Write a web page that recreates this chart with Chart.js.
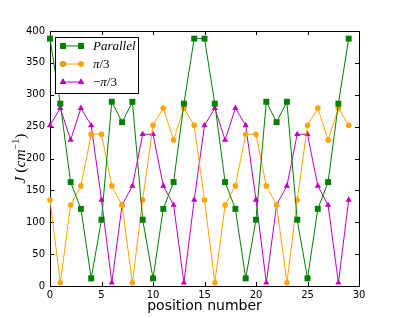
<!DOCTYPE html>
<html>
<head>
<meta charset="utf-8">
<script src="https://cdn.jsdelivr.net/npm/chart.js@4.4.1/dist/chart.umd.min.js"></script>
<style>
  html, body { margin: 0; padding: 0; background: #fff; }
  #wrap { width: 399px; height: 318px; }
</style>
</head>
<body>
<div id="wrap"><canvas id="chart1" width="399" height="318"></canvas></div>
<script>
// values
const positions = [0, 1, 2, 3, 4, 5, 6, 7, 8, 9, 10, 11, 12, 13, 14, 15, 16, 17, 18, 19, 20, 21, 22, 23, 24, 25, 26, 27, 28, 29];
const parallel = [388, 286, 163, 121, 12, 104, 289, 257, 289, 104, 12, 121, 163, 286, 388, 388, 286, 163, 121, 12, 104, 289, 257, 289, 104, 12, 121, 163, 286, 388];
const piThird = [135, 5, 127, 157, 238, 238, 157, 127, 5, 135, 252, 279, 229, 279, 252, 135, 5, 127, 157, 238, 238, 157, 127, 5, 135, 252, 279, 229, 279, 252];
const minusPiThird = [252, 279, 229, 279, 252, 135, 5, 127, 157, 238, 238, 157, 127, 5, 135, 252, 279, 229, 279, 252, 135, 5, 127, 157, 238, 238, 157, 127, 5, 135];
const xTicks = [0, 5, 10, 15, 20, 25, 30];
const yTicks = [0, 50, 100, 150, 200, 250, 300, 350, 400];

// legend labels as [text, italic] pieces
const legendLabels = [
    [["Parallel", true]],
    [["\u03c0", true], ["/3", false]],
    [["\u2212", false], ["\u03c0", true], ["/3", false]]
];

function toPoints(vals) {
    return positions.map((p, i) => ({ x: p, y: vals[i] }));
}

function richText(ctx, parts, x, y, size) {
    var cx = x;
    parts.forEach(function (p) {
        var sz = p[2] || size;
        ctx.font = (p[1] ? "italic " : "") + sz + "px 'Liberation Serif'";
        ctx.fillText(p[0], cx, y - (p[3] || 0));
        cx += ctx.measureText(p[0]).width;
    });
    return cx - x;
}

function richWidth(ctx, parts, size) {
    var w = 0;
    parts.forEach(function (p) {
        var sz = p[2] || size;
        ctx.font = (p[1] ? "italic " : "") + sz + "px 'Liberation Serif'";
        w += ctx.measureText(p[0]).width;
    });
    return w;
}

const series = [
    { data: parallel, color: "#008000", style: "rect", radius: 4.2 },
    { data: piThird, color: "#ffa500", style: "circle", radius: 2.8 },
    { data: minusPiThird, color: "#bf00bf", style: "triangle", radius: 3.6 }
];

// frame + inward ticks like matplotlib classic
const framePlugin = {
    id: "frame",
    beforeDatasetsDraw(chart) {
        const ctx = chart.ctx, a = chart.chartArea;
        const xs = chart.scales.x, ys = chart.scales.y;
        ctx.save();
        ctx.strokeStyle = "#000";
        ctx.lineWidth = 1;
        ctx.beginPath();
        xTicks.forEach(function (t) {
            var px = Math.round(xs.getPixelForValue(t)) + 0.5;
            ctx.moveTo(px, a.bottom); ctx.lineTo(px, a.bottom - 4);
            ctx.moveTo(px, a.top); ctx.lineTo(px, a.top + 4);
        });
        yTicks.forEach(function (t) {
            var py = Math.round(ys.getPixelForValue(t)) + 0.5;
            ctx.moveTo(a.left, py); ctx.lineTo(a.left + 4, py);
            ctx.moveTo(a.right, py); ctx.lineTo(a.right - 4, py);
        });
        ctx.stroke();
        ctx.strokeRect(Math.round(a.left) + 0.5, Math.round(a.top) + 0.5,
            Math.round(a.right - a.left), Math.round(a.bottom - a.top));
        ctx.restore();
    },
    afterDraw(chart) {
        const ctx = chart.ctx, a = chart.chartArea;
        ctx.save();
        ctx.fillStyle = "#000";

        // x title
        ctx.font = "14px 'DejaVu Sans'";
        ctx.textAlign = "center";
        ctx.textBaseline = "alphabetic";
        ctx.fillText("position number", (a.left + a.right) / 2, 310);

        // y title, rotated
        ctx.textAlign = "left";
        var yParts = [["J", true], [" (", false], ["cm", true], ["\u22121", false, 10, 6], [")", false]];
        var w = richWidth(ctx, yParts, 15.5);
        ctx.translate(25, (a.top + a.bottom) / 2);
        ctx.rotate(-Math.PI / 2);
        richText(ctx, yParts, -w / 2, 0, 15.5);
        ctx.restore();

        // legend
        ctx.save();
        ctx.fillStyle = "#fff";
        ctx.fillRect(56, 37, 82, 56);
        ctx.strokeStyle = "#000";
        ctx.lineWidth = 1;
        ctx.strokeRect(55.5, 37.5, 83, 56);
        var rows = [46, 64, 82];
        chart.data.datasets.forEach(function (ds, i) {
            var y = rows[i];
            ctx.strokeStyle = ds.borderColor;
            ctx.lineWidth = 1;
            ctx.beginPath();
            ctx.moveTo(63, y); ctx.lineTo(81, y);
            ctx.stroke();
            [63, 81].forEach(function (px) {
                Chart.helpers.drawPoint(ctx, {
                    pointStyle: ds.pointStyle, radius: ds.pointRadius, rotation: 0, borderWidth: 0
                }, px, y);
                ctx.fillStyle = ds.backgroundColor;
                ctx.fill();
            });
            ctx.fillStyle = "#000";
            ctx.textBaseline = "middle";
            ctx.textAlign = "left";
            richText(ctx, legendLabels[i], 93, y + 1, 13);
        });
        ctx.restore();
    }
};

const chart1 = new Chart(document.getElementById("chart1"), {
    type: "scatter",
    data: {
        datasets: series.map(function (s, i) {
            return {
                label: "s" + i,
                data: toPoints(s.data),
                showLine: true,
                borderColor: s.color,
                backgroundColor: s.color,
                borderWidth: 1,
                pointStyle: s.style,
                pointRadius: s.radius,
                pointBorderWidth: 0,
                pointBackgroundColor: s.color,
                tension: 0,
                clip: false
            };
        })
    },
    options: {
        responsive: false,
        animation: false,
        devicePixelRatio: 1,
        layout: { padding: { left: 0, right: 40, top: 31, bottom: 0 } },
        plugins: { legend: { display: false }, tooltip: { enabled: false } },
        scales: {
            x: {
                type: "linear", min: 0, max: 30,
                grid: { display: false, drawTicks: false },
                border: { display: false },
                ticks: {
                    stepSize: 5, color: "#000", padding: 3, maxRotation: 0,
                    font: { family: "DejaVu Sans", size: 10 }
                },
                afterFit: function (scale) { scale.height = 32; }
            },
            y: {
                min: 0, max: 400,
                grid: { display: false, drawTicks: false },
                border: { display: false },
                ticks: {
                    stepSize: 50, color: "#000", padding: 5,
                    font: { family: "DejaVu Sans", size: 10 }
                },
                afterFit: function (scale) { scale.width = 50; }
            }
        }
    },
    plugins: [framePlugin]
});
</script>
</body>
</html>
